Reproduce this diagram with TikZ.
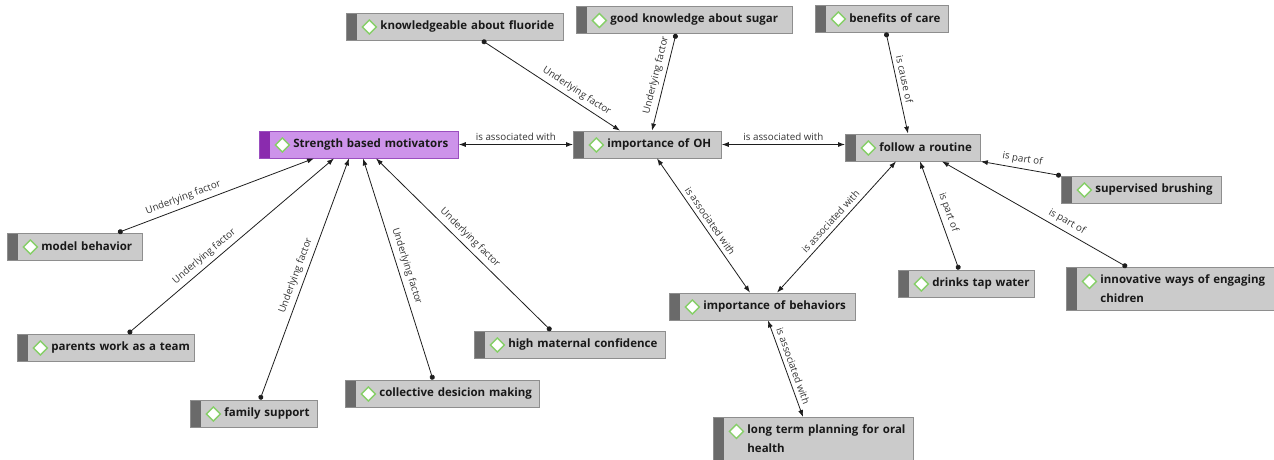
\documentclass[tikz,border=0pt]{standalone}
\usepackage{fontspec}
\setmainfont{Open Sans}
\usetikzlibrary{arrows.meta}

\definecolor{boxfill}{HTML}{CBCBCB}
\definecolor{boxline}{HTML}{8E8E8E}
\definecolor{boxbar}{HTML}{6A6A6A}
\definecolor{motfill}{HTML}{CD93EA}
\definecolor{motline}{HTML}{9A4EBF}
\definecolor{motbar}{HTML}{8A2BAE}
\definecolor{codegreen}{HTML}{86CF68}
\definecolor{linkcol}{HTML}{1E1E1E}

\tikzset{
  barcolor/.store in=\codebar, barcolor=boxbar,
  code/.style={draw=boxline, fill=boxfill, line width=0.8pt, anchor=west,
    text width=#1, align=left, inner xsep=0pt, inner ysep=4pt,
    minimum height=27pt, text=black!90,
    font=\bfseries\fontsize{11.5}{19}\selectfont,
    execute at begin node={\leftskip=34pt},
    path picture={
      \fill[fill=\codebar] (path picture bounding box.north west)
        rectangle ([xshift=11pt]path picture bounding box.south west);
      \filldraw[fill=white, draw=codegreen, line width=1.4pt]
        ([xshift=23pt,yshift=-14pt]path picture bounding box.north west)
        +(-7,0) -- +(0,7) -- +(7,0) -- +(0,-7) -- cycle;
    }},
  uf/.style={draw=linkcol, line width=0.8pt,
    {Circle[length=5pt]}-{Latex[length=7pt,width=5pt]}},
  both/.style={draw=linkcol, line width=0.8pt,
    {Latex[length=7pt,width=5pt]}-{Latex[length=7pt,width=5pt]}},
  lbl/.style={sloped, above, inner sep=4pt, text=black!80,
    font=\fontsize{9.8}{11}\selectfont}
}

\begin{document}
\begin{tikzpicture}[x=1pt,y=-1pt]
  \useasboundingbox (0,0) rectangle (1274,459);

  \node[code=199pt, barcolor=motbar, draw=motline, fill=motfill] (smot) at (259,144.5) {Strength based motivators};
  \node[code=217pt] (fluor)  at (346,26.5)  {knowledgeable about fluoride};
  \node[code=216pt] (sugar)  at (576,20)    {good knowledge about sugar};
  \node[code=133pt] (care)   at (815,18.5)  {benefits of care};
  \node[code=148pt] (ioh)    at (573,144.5) {importance of OH};
  \node[code=135pt] (rout)   at (845,147.5) {follow a routine};
  \node[code=160pt] (brush)  at (1061,189.5) {supervised brushing};
  \node[code=135pt] (model)  at (7,246.5)   {model behavior};
  \node[code=177pt] (team)   at (17,347.5)  {parents work as a team};
  \node[code=127pt] (family) at (190,413.5) {family support};
  \node[code=194pt] (decis)  at (345,393.5) {collective desicion making};
  \node[code=191pt] (conf)   at (474,344.5) {high maternal confidence};
  \node[code=186pt] (ibeh)   at (669,306.5) {importance of behaviors};
  \node[code=136pt] (water)  at (898,283.5) {drinks tap water};
  \node[code=208pt, anchor=north west, minimum height=43pt] (innov) at (1066,267) {innovative ways of engaging\\chidren};
  \node[code=200pt, anchor=north west, minimum height=43pt] (plan)  at (713,417)  {long term planning for oral\\health};

  % underlying factors
  \path ([xshift=111pt]model.north west) edge[uf] node[lbl,pos=0.35] {Underlying factor} ([xshift=55pt]smot.south west)
        ([xshift=111pt]team.north west)  edge[uf] node[lbl,pos=0.4]  {Underlying factor} ([xshift=75pt]smot.south west)
        ([xshift=70pt]family.north west) edge[uf] node[lbl,pos=0.5]  {Underlying factor} ([xshift=90pt]smot.south west)
        ([xshift=88pt]decis.north west)  edge[uf] node[lbl,pos=0.5]  {Underlying factor} ([xshift=104pt]smot.south west)
        ([xshift=77pt]conf.north west)   edge[uf] node[lbl,pos=0.5]  {Underlying factor} ([xshift=117pt]smot.south west)
        ([xshift=136pt]fluor.south west) edge[uf] node[lbl,pos=0.65] {Underlying factor} ([xshift=47pt]ioh.north west)
        ([xshift=100pt]sugar.south west) edge[uf] node[lbl,pos=0.45] {Underlying factor} ([xshift=79pt]ioh.north west)
        ([xshift=71pt]care.south west)   edge[uf] node[lbl,pos=0.48] {is cause of} ([xshift=63pt]rout.north west)
        (brush.north west)               edge[uf] node[lbl,pos=0.5]  {is part of} (rout.south east)
        ([xshift=61pt]water.north west)  edge[uf] node[lbl,pos=0.5]  {is part of} ([xshift=75pt]rout.south west)
        ([xshift=61pt]innov.north west)  edge[uf] node[lbl,pos=0.35] {is part of} ([xshift=97pt]rout.south west);

  % associations
  \path (smot.east) edge[both] node[lbl] {is associated with} (ioh.west)
        (ioh.east)  edge[both] node[lbl] {is associated with} (ioh.east -| rout.west)
        ([xshift=84pt]ioh.south west)  edge[both] node[lbl] {is associated with} ([xshift=81pt]ibeh.north west)
        ([xshift=51pt]rout.south west) edge[both] node[lbl] {is associated with} ([xshift=108pt]ibeh.north west)
        ([xshift=99pt]ibeh.south west) edge[both] node[lbl] {is associated with} ([xshift=90pt]plan.north west);
\end{tikzpicture}
\end{document}
